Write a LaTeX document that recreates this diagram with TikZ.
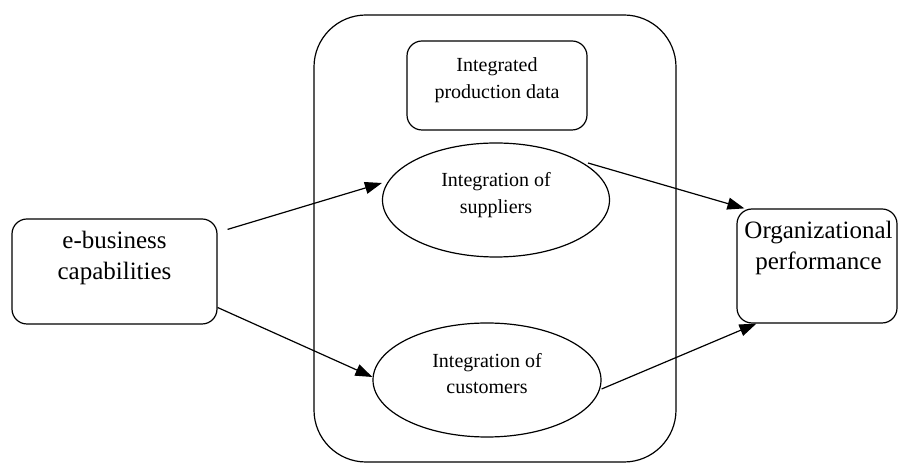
\documentclass[tikz,border=0pt]{standalone}
\usepackage{fontspec}
\setmainfont{Liberation Serif}
\usetikzlibrary{positioning, arrows.meta, shapes.geometric}

\begin{document}
\begin{tikzpicture}[
    x=1pt, y=1pt, line width=1.2pt,
    frame/.style={rectangle, draw, rounded corners=52pt, inner sep=0pt},
    box/.style={rectangle, draw, rounded corners=15pt, inner sep=0pt},
    oval/.style={ellipse, draw, inner sep=0pt,
                 minimum width=227pt, minimum height=114pt},
    small/.style={align=center, inner sep=0pt, font=\fontsize{20}{26.5}\selectfont},
    big/.style={align=center, inner sep=0pt, font=\fontsize{25}{31}\selectfont},
    arrow/.style={-{Triangle[length=17pt, width=12pt]}}
]
  \useasboundingbox (0,0) rectangle (898,463);

  % mediating block
  \node[frame, minimum width=362pt, minimum height=447pt] (block) at (495,224.5) {};
  \node[box, minimum width=180pt, minimum height=89pt] (prod) at (497,377.5) {};
  \node[oval] (supp) at (496,263) {};
  \node[oval, minimum width=228pt] (cust) at (487,83) {};

  % outer boxes
  \node[box, minimum width=205pt, minimum height=105pt] (ebiz) at (114.5,191.5) {};
  \node[box, minimum width=160pt, minimum height=114pt] (perf) at (817,197) {};

  % labels
  \node[small] (prodtxt) at ([yshift=5.5]prod.center) {Integrated\\production data};
  \node[small] (supptxt) at ([yshift=5]supp.center) {Integration of\\suppliers};
  \node[small] (custtxt) at ([yshift=6.5]cust.center) {Integration of\\customers};
  \node[big] (ebiztxt) at ([yshift=13.5]ebiz.center) {e-business\\capabilities};
  \node[big] (perftxt) at ([shift={(1.5,18)}]perf.center) {Organizational\\performance};

  \draw[arrow] ([shift={(10,-11)}]ebiz.north east) -- ([yshift=17]supp.west);
  \draw[arrow] ([yshift=-36]ebiz.east) -- ([yshift=3]cust.west);
  \draw[arrow] ([shift={(92,37)}]supp.center) -- ([xshift=8]perf.north west);
  \draw[arrow] ([yshift=-9]cust.east) -- ([xshift=20]perf.south west);
\end{tikzpicture}
\end{document}
